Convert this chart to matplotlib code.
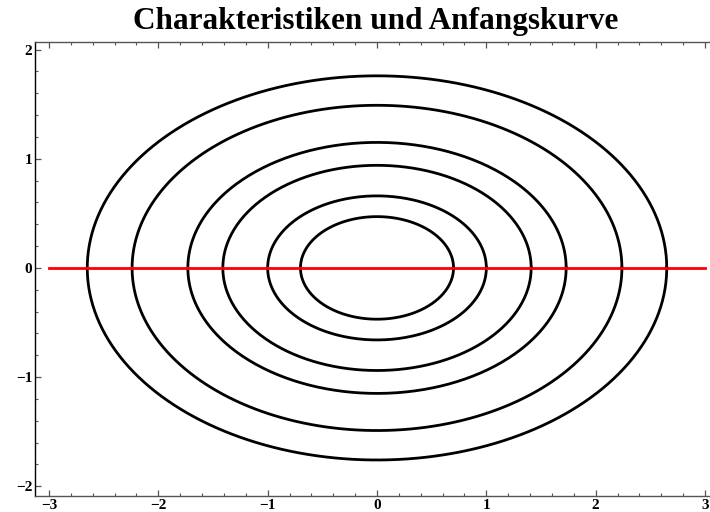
import numpy as np
import matplotlib.pyplot as plt
from matplotlib.ticker import MultipleLocator

# semi-axes of the characteristic curves
half_width = [0.70, 1.00, 1.41, 1.73, 2.24, 2.65]
half_height = [0.47, 0.66, 0.94, 1.15, 1.49, 1.76]

# initial curve: y = 0 on [-3, 3]
init_x = [-3, 3]
init_y = [0, 0]

x_ticks = [-3, -2, -1, 0, 1, 2, 3]
y_ticks = [-2, -1, 0, 1, 2]

plt.rcParams['font.family'] = ['Liberation Serif', 'DejaVu Serif']
plt.rcParams['font.weight'] = 'bold'

fig = plt.figure(figsize=(7.1, 5.12), dpi=100)
# left edge 35px, bottom 496px, top 42px, right edge beyond the image (719px)
ax = fig.add_axes([35 / 710, 16 / 512, 684 / 710, 454 / 512])

t = np.linspace(0, 2 * np.pi, 400)
for a, b in zip(half_width, half_height):
    ax.plot(a * np.cos(t), b * np.sin(t), color='black', lw=2)

ax.plot(init_x, init_y, color='#ff0000', lw=2)

ax.set_xlim(-3.128, 3.128)
ax.set_ylim(-2.09, 2.07)

ax.set_xticks(x_ticks)
ax.set_yticks(y_ticks)
ax.set_xticklabels(['\u22123', '\u22122', '\u22121', '0', '1', '2', '3'])
ax.set_yticklabels(['\u22122', '\u22121', '0', '1', '2'])
ax.xaxis.set_minor_locator(MultipleLocator(0.2))
ax.yaxis.set_minor_locator(MultipleLocator(0.2))

ax.tick_params(which='both', direction='in', top=True, right=True,
               color='#555555', labelsize=11, pad=2)
ax.tick_params(which='major', length=4, width=0.9)
ax.tick_params(which='minor', length=2.5, width=0.8)
for s in ax.spines.values():
    s.set_color('#555555')
    s.set_linewidth(1.0)
ax.spines['left'].set_color('black')

for lab in ax.get_xticklabels() + ax.get_yticklabels():
    lab.set_fontweight('bold')

fig.text(376 / 710, 1 - 21 / 512, 'Charakteristiken und Anfangskurve',
         ha='center', va='center', fontsize=22.5, fontweight='bold')

fig.savefig('out.png', dpi=100)
